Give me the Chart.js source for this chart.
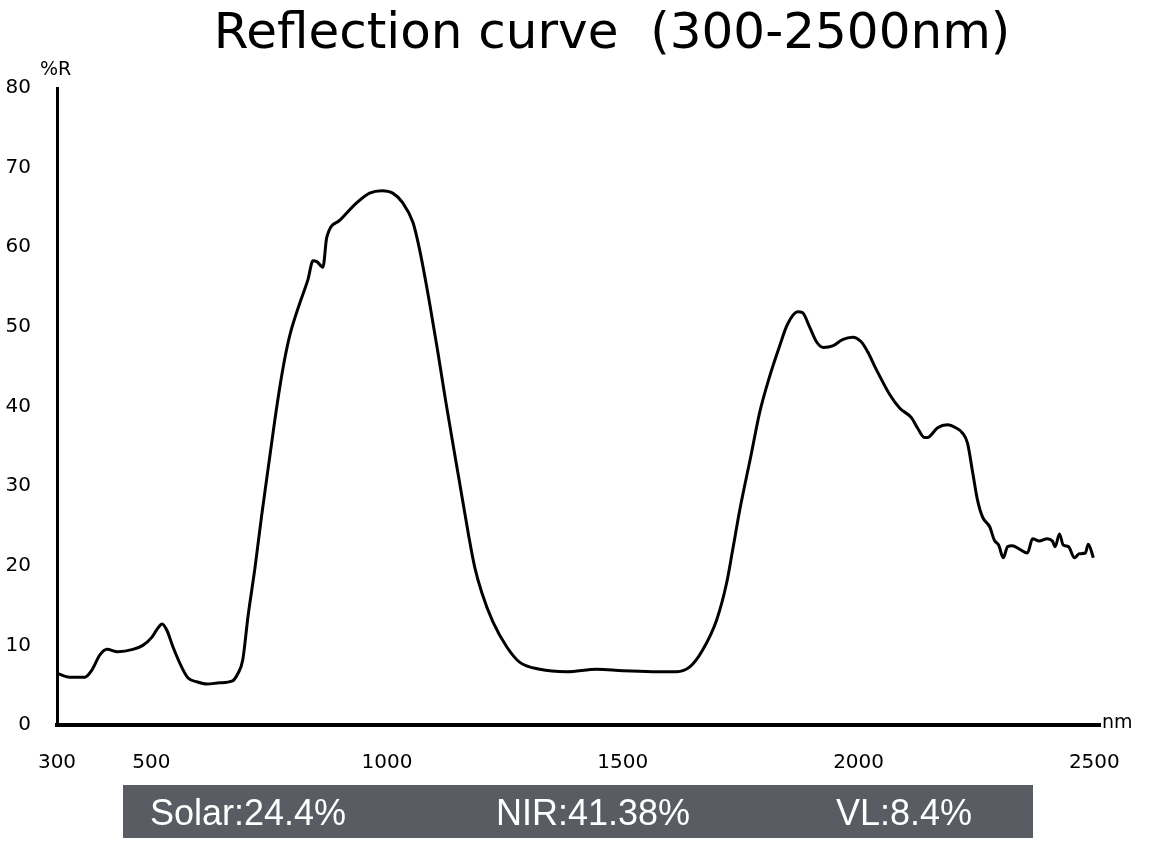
<!DOCTYPE html>
<html>
<head>
<meta charset="utf-8">
<script src="https://cdn.jsdelivr.net/npm/chart.js@4"></script>
<style>
  html, body { margin: 0; padding: 0; background: #fff; }
  #wrap { width: 1153px; height: 842px; }
</style>
</head>
<body>
<div id="wrap"><canvas id="grafico" width="1153" height="842"></canvas></div>
<script>
"use strict";
// wavelengths (nm) and reflectance (%R)
const wavelengths = [300, 327, 359, 374, 391, 406, 429, 461, 482, 501, 512, 523, 533, 546, 565, 578, 598, 618, 645, 671, 684, 694, 705, 720, 734, 751, 762, 773, 784, 794, 815, 832, 843, 851, 864, 872, 900, 936, 963, 989, 1012, 1033, 1055, 1069, 1089, 1107, 1124, 1142, 1160, 1173, 1186, 1201, 1224, 1254, 1281, 1324, 1381, 1445, 1500, 1563, 1614, 1642, 1669, 1699, 1720, 1733, 1748, 1773, 1790, 1811, 1832, 1849, 1871, 1881, 1896, 1911, 1926, 1945, 1966, 1987, 2006, 2019, 2038, 2066, 2087, 2112, 2125, 2140, 2146, 2167, 2188, 2207, 2220, 2231, 2242, 2252, 2263, 2278, 2288, 2297, 2307, 2316, 2326, 2341, 2358, 2369, 2383, 2400, 2411, 2417, 2426, 2434, 2445, 2458, 2468, 2481, 2487, 2498];
const reflectance = [6.5, 6.0, 6.0, 6.9, 8.8, 9.5, 9.2, 9.5, 10.0, 11.0, 12.0, 12.7, 11.9, 9.8, 7.2, 5.9, 5.4, 5.15, 5.3, 5.5, 6.5, 8.2, 13.6, 19.8, 26.3, 33.6, 38.3, 42.6, 46.3, 49.0, 53.0, 55.9, 58.3, 58.2, 57.5, 61.2, 63.4, 65.6, 66.8, 67.1, 66.8, 65.6, 63.1, 59.7, 53.4, 47.1, 40.8, 34.5, 28.3, 23.8, 19.8, 16.6, 13.0, 9.8, 7.9, 7.0, 6.7, 7.0, 6.8, 6.7, 6.7, 7.3, 9.4, 13.2, 17.8, 22.0, 27.0, 34.2, 39.2, 43.7, 47.5, 50.3, 51.9, 51.8, 50.0, 48.1, 47.4, 47.6, 48.4, 48.7, 48.1, 46.9, 44.6, 41.5, 39.8, 38.6, 37.3, 36.1, 36.1, 37.3, 37.7, 37.3, 36.7, 35.4, 31.7, 28.3, 26.1, 24.9, 23.2, 22.6, 21.0, 22.4, 22.5, 22.1, 21.6, 23.4, 23.1, 23.4, 23.1, 22.4, 24.0, 22.6, 22.4, 21.0, 21.5, 21.6, 22.7, 21.0];
const xTicks = [300, 500, 1000, 1500, 2000, 2500];
const yTicks = [0, 10, 20, 30, 40, 50, 60, 70, 80];
const titolo = "Reflection curve  (300-2500nm)";
const riepilogo = ["Solar:24.4%", "NIR:41.38%", "VL:8.4%"];

const fontAssi = "'DejaVu Sans', Verdana, sans-serif";

let punti = [];
for (let i = 0; i < wavelengths.length; i++) {
    punti.push({ x: wavelengths[i], y: reflectance[i] });
}

// title, unit labels and the grey summary bar
const extra = {
    id: "extra",
    afterDraw(chart) {
        const ctx = chart.ctx;
        ctx.save();
        ctx.fillStyle = "#000";
        ctx.textBaseline = "alphabetic";
        ctx.textAlign = "center";
        ctx.font = "50px " + fontAssi;
        ctx.fillText(titolo, 612, 48);

        ctx.font = "19px " + fontAssi;
        ctx.textAlign = "left";
        ctx.fillText("%R", 40, 75);
        ctx.fillText("nm", 1102, 728);

        ctx.fillStyle = "#5a5c63";
        ctx.fillRect(123, 785, 910, 53);
        ctx.fillStyle = "#fff";
        ctx.font = "36px 'Liberation Sans', Arial, sans-serif";
        ctx.fillText(riepilogo[0], 150, 825);
        ctx.fillText(riepilogo[1], 496, 825);
        ctx.fillText(riepilogo[2], 836, 825);
        ctx.restore();
    }
};

const grafico = new Chart(document.getElementById("grafico"), {
    type: "line",
    data: {
        datasets: [{
            label: "%R",
            data: punti,
            borderColor: "#000",
            borderWidth: 3,
            pointRadius: 0,
            cubicInterpolationMode: "monotone",
            fill: false
        }]
    },
    options: {
        responsive: false,
        animation: false,
        layout: { padding: { top: 88, right: 53, bottom: 0, left: 0 } },
        plugins: {
            legend: { display: false },
            title: { display: false },
            tooltip: { enabled: false }
        },
        scales: {
            x: {
                type: "linear",
                min: 300,
                max: 2512,
                grid: { display: false },
                border: { display: true, color: "#000", width: 4 },
                afterBuildTicks(scale) {
                    scale.ticks = xTicks.map(v => ({ value: v }));
                },
                afterFit(scale) { scale.height = 117; },
                ticks: {
                    color: "#000",
                    padding: 18,
                    maxRotation: 0,
                    autoSkip: false,
                    font: { family: fontAssi, size: 20 },
                    callback: v => String(v)
                }
            },
            y: {
                min: 0,
                max: 80,
                grid: { display: false },
                border: { display: true, color: "#000", width: 3 },
                afterBuildTicks(scale) {
                    scale.ticks = yTicks.map(v => ({ value: v }));
                },
                afterFit(scale) { scale.width = 57; },
                ticks: {
                    color: "#000",
                    padding: 18,
                    font: { family: fontAssi, size: 20 }
                }
            }
        }
    },
    plugins: [extra]
});
</script>
</body>
</html>
